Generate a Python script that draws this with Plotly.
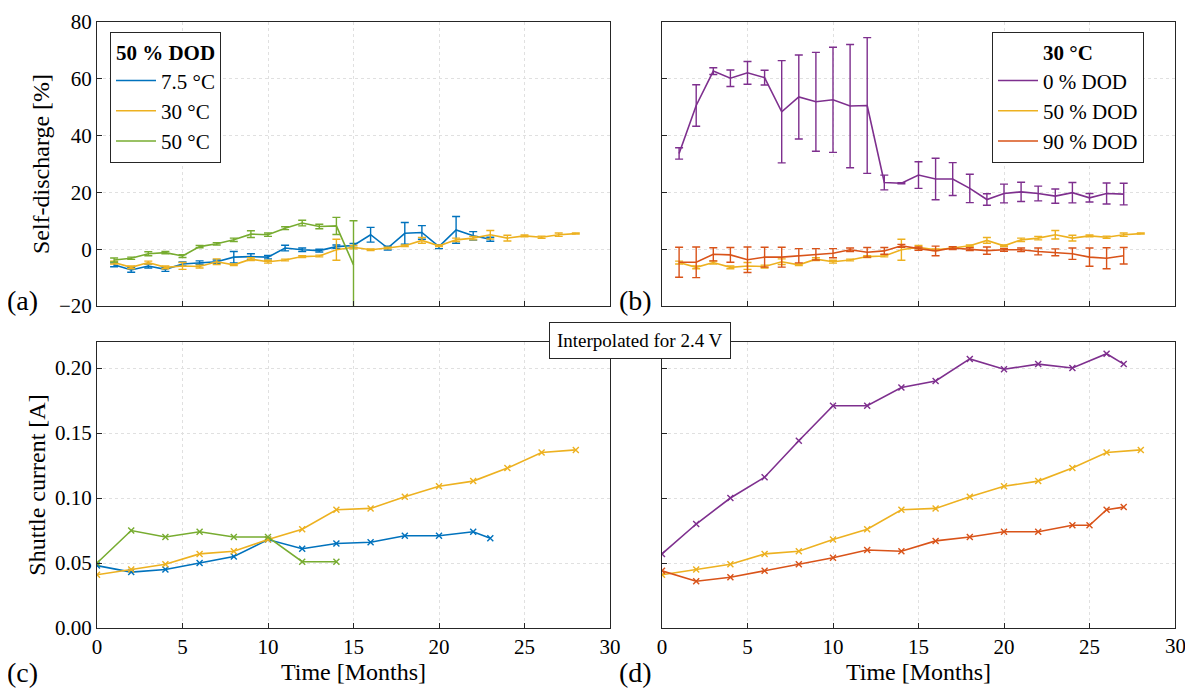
import plotly.graph_objects as go

BLUE, ORANGE, YELLOW, PURPLE, GREEN = "#0072BD", "#D95319", "#EDB120", "#7E2F8E", "#77AC30"
FONT = "Liberation Serif"

# (a) self-discharge, 50 % DOD
m_a_blue = list(range(1, 24))
sd_blue = [-5.5, -7.3, -5.9, -7.1, -5.2, -4.7, -4.4, -2.8, -2.6, -2.8, 0.4, -0.2, -0.5, 0.9, 1.3,
           5.1, 0.4, 5.6, 5.9, 0.9, 6.8, 4.7, 3.5]
err_blue = [0.7, 0.8, 0.7, 0.7, 0.7, 0.6, 0.6, 2.0, 1.0, 0.6, 1.0, 0.6, 0.5, 0.6, 0.7,
            2.6, 0.7, 3.8, 2.4, 0.7, 4.7, 1.5, 0.7]
m_yellow = list(range(1, 29))
sd_yellow = [-4.7, -6.4, -4.7, -6.4, -5.9, -6.1, -4.4, -5.5, -3.5, -4.4, -3.8, -2.6, -2.4, -0.2,
             0.7, -0.2, 0.4, 1.2, 3.1, 1.2, 3.3, 3.9, 5.1, 3.9, 4.7, 4.2, 5.1, 5.5]
err_yellow = [0.5, 0.5, 0.5, 0.5, 1.2, 0.5, 1.0, 0.3, 0.5, 0.5, 0.3, 0.3, 0.3, 3.7,
              0.6, 0.3, 0.3, 0.3, 1.0, 0.3, 0.6, 0.6, 1.5, 1.0, 0.3, 0.4, 0.6, 0.2]
m_a_green = list(range(1, 16))
sd_green = [-3.8, -3.2, -1.6, -1.2, -2.4, 0.9, 1.9, 3.3, 5.3, 5.1, 7.4, 9.2, 8.0, 8.2, -5.5]
err_green = [0.7, 0.4, 0.7, 0.4, 0.5, 0.4, 0.4, 0.6, 1.2, 0.6, 0.5, 1.0, 0.8, 3.0, 15.5]

# (b) self-discharge, 30 °C
m_b = list(range(1, 28))
sd_purple = [33.7, 50.6, 62.7, 60.2, 62.1, 60.4, 48.4, 53.6, 51.9, 52.6, 50.4, 50.6, 23.5, 23.2,
             26.1, 24.7, 24.7, 21.4, 17.5, 19.6, 20.2, 19.6, 18.7, 19.9, 18.1, 19.6, 19.4]
err_purple = [2.0, 7.3, 1.2, 2.9, 4.0, 2.6, 18.0, 14.8, 17.4, 18.5, 21.7, 23.9, 2.6, 0.2,
              4.7, 7.3, 5.8, 5.0, 2.0, 3.3, 3.4, 2.6, 2.5, 3.6, 1.5, 3.7, 3.8]
sd_red = [-4.6, -4.6, -1.8, -2.0, -3.7, -2.8, -2.8, -2.3, -1.8, -1.4, -0.2, -1.1, -0.6, 1.2,
          0.2, -0.6, 0.4, 0.0, -0.5, -0.2, -0.2, -0.8, -1.1, -1.6, -2.8, -3.2, -2.3]
err_red = [5.3, 5.4, 2.3, 2.6, 4.5, 3.5, 3.5, 2.5, 2.0, 1.6, 0.6, 1.7, 1.2, 0.5,
           0.6, 1.7, 0.5, 0.5, 1.3, 0.5, 0.6, 1.2, 1.2, 2.0, 3.2, 3.7, 2.9]

# (c), (d) shuttle current interpolated for 2.4 V
t_blue = [0, 2, 4, 6, 8, 10, 12, 14, 16, 18, 20, 22, 23]
i_blue = [0.048, 0.043, 0.045, 0.050, 0.055, 0.068, 0.061, 0.065, 0.066, 0.071, 0.071, 0.074, 0.069]
t_yellow = [0, 2, 4, 6, 8, 10, 12, 14, 16, 18, 20, 22, 24, 26, 28]
i_yellow = [0.041, 0.045, 0.049, 0.057, 0.059, 0.068, 0.076, 0.091, 0.092, 0.101, 0.109, 0.113,
            0.123, 0.135, 0.137]
t_green = [0, 2, 4, 6, 8, 10, 12, 14]
i_green = [0.050, 0.075, 0.070, 0.074, 0.070, 0.070, 0.051, 0.051]
t_purple = [0, 2, 4, 6, 8, 10, 12, 14, 16, 18, 20, 22, 24, 26, 27]
i_purple = [0.057, 0.080, 0.100, 0.116, 0.144, 0.171, 0.171, 0.185, 0.190, 0.207, 0.199, 0.203,
            0.200, 0.211, 0.203]
t_red = [0, 2, 4, 6, 8, 10, 12, 14, 16, 18, 20, 22, 24, 25, 26, 27]
i_red = [0.044, 0.036, 0.039, 0.044, 0.049, 0.054, 0.060, 0.059, 0.067, 0.070, 0.074, 0.074,
         0.079, 0.079, 0.091, 0.093]

fig = go.Figure()


def err_trace(x, y, e, color, name, xa, ya, legend=None):
    fig.add_trace(go.Scatter(
        x=x, y=y, mode="lines", name=name, line=dict(color=color, width=1.6),
        error_y=dict(type="data", array=e, color=color, thickness=1.4, width=4),
        xaxis=xa, yaxis=ya, legend=legend, showlegend=legend is not None))


def x_trace(x, y, color, xa, ya):
    fig.add_trace(go.Scatter(
        x=x, y=y, mode="lines+markers", line=dict(color=color, width=1.6),
        marker=dict(symbol="x-thin-open", size=6, line=dict(color=color, width=1.4)),
        xaxis=xa, yaxis=ya, showlegend=False))


err_trace(m_a_blue, sd_blue, err_blue, BLUE, "7.5 °C", "x", "y", "legend")
err_trace(m_yellow, sd_yellow, err_yellow, YELLOW, "30 °C", "x", "y", "legend")
err_trace(m_a_green, sd_green, err_green, GREEN, "50 °C", "x", "y", "legend")
err_trace(m_b, sd_purple, err_purple, PURPLE, "0 % DOD", "x2", "y2", "legend2")
err_trace(m_yellow, sd_yellow, err_yellow, YELLOW, "50 % DOD", "x2", "y2", "legend2")
err_trace(m_b, sd_red, err_red, ORANGE, "90 % DOD", "x2", "y2", "legend2")
x_trace(t_blue, i_blue, BLUE, "x3", "y3")
x_trace(t_yellow, i_yellow, YELLOW, "x3", "y3")
x_trace(t_green, i_green, GREEN, "x3", "y3")
x_trace(t_purple, i_purple, PURPLE, "x4", "y4")
x_trace(t_yellow, i_yellow, YELLOW, "x4", "y4")
x_trace(t_red, i_red, ORANGE, "x4", "y4")

# page has an 8 px body margin; figure is sized to fit inside it
OFF = 8
W, H = 1193 - 2 * OFF, 698 - 2 * OFF


def px(x):
    return (x - OFF) / W


def py(y):
    return 1 - (y - OFF) / H


dl, dr = [px(97), px(610)], [px(662), px(1175)]
dt, db = [py(306), py(22)], [py(628), py(342)]

common = dict(showline=True, linecolor="#262626", linewidth=1, mirror=True, ticks="inside",
              ticklen=5, tickcolor="#262626", showgrid=True, gridcolor="#e0e0e0",
              griddash="dot", zeroline=False, automargin=False,
              tickfont=dict(size=21, color="black"))
xr = dict(range=[0, 30], dtick=5)
xt = dict(text="Time [Months]", font=dict(size=24), standoff=0)
fig.update_layout(
    xaxis=dict(domain=dl, anchor="y", showticklabels=False, **xr, **common),
    xaxis2=dict(domain=dr, anchor="y2", showticklabels=False, **xr, **common),
    xaxis3=dict(domain=dl, anchor="y3", **xr, **common, title=xt),
    xaxis4=dict(domain=dr, anchor="y4", **xr, **common, title=xt),
    yaxis=dict(domain=dt, anchor="x", range=[-20, 80], dtick=20, **common,
               title=dict(text="Self-discharge [%]", font=dict(size=24), standoff=2)),
    yaxis2=dict(domain=dt, anchor="x2", range=[-20, 80], dtick=20, showticklabels=False, **common),
    yaxis3=dict(domain=db, anchor="x3", range=[0, 0.22], dtick=0.05, tickformat=".2f", **common,
                title=dict(text="Shuttle current [A]", font=dict(size=24), standoff=2)),
    yaxis4=dict(domain=db, anchor="x4", range=[0, 0.22], dtick=0.05, showticklabels=False, **common),
)

leg = dict(bgcolor="white", bordercolor="#262626", borderwidth=1, font=dict(size=21),
           xanchor="left", yanchor="top", tracegroupgap=0, itemwidth=40)
fig.update_layout(
    legend=dict(x=px(110), y=py(32),
                title=dict(text="<b>50 % DOD</b>", font=dict(size=21), side="top center"), **leg),
    legend2=dict(x=px(992), y=py(32),
                 title=dict(text="<b>30 °C</b>", font=dict(size=21), side="top center"), **leg),
)

labels = [("(a)", 5, 318), ("(b)", 617, 318), ("(c)", 5, 690), ("(d)", 617, 690)]
ann = [dict(text=t, x=px(x), y=py(y), xref="paper", yref="paper", showarrow=False,
            xanchor="left", yanchor="bottom", font=dict(size=28, color="black")) for t, x, y in labels]
ann.append(dict(text="Interpolated for 2.4 V", x=px(640), y=py(340), xref="paper", yref="paper",
                showarrow=False, font=dict(size=19, color="black"), bgcolor="white",
                bordercolor="#262626", borderwidth=1, borderpad=7))
# last tick label of (d) sits at the page edge, plotly would drop it
ann.append(dict(text="30", x=30, y=py(632), xref="x4", yref="paper", showarrow=False,
                xanchor="center", yanchor="top", font=dict(size=21, color="black")))

fig.update_layout(
    width=W, height=H, margin=dict(l=0, r=0, t=0, b=0), plot_bgcolor="white",
    paper_bgcolor="white", font=dict(family=FONT, color="black"), annotations=ann,
)
fig.write_html("out.html")
